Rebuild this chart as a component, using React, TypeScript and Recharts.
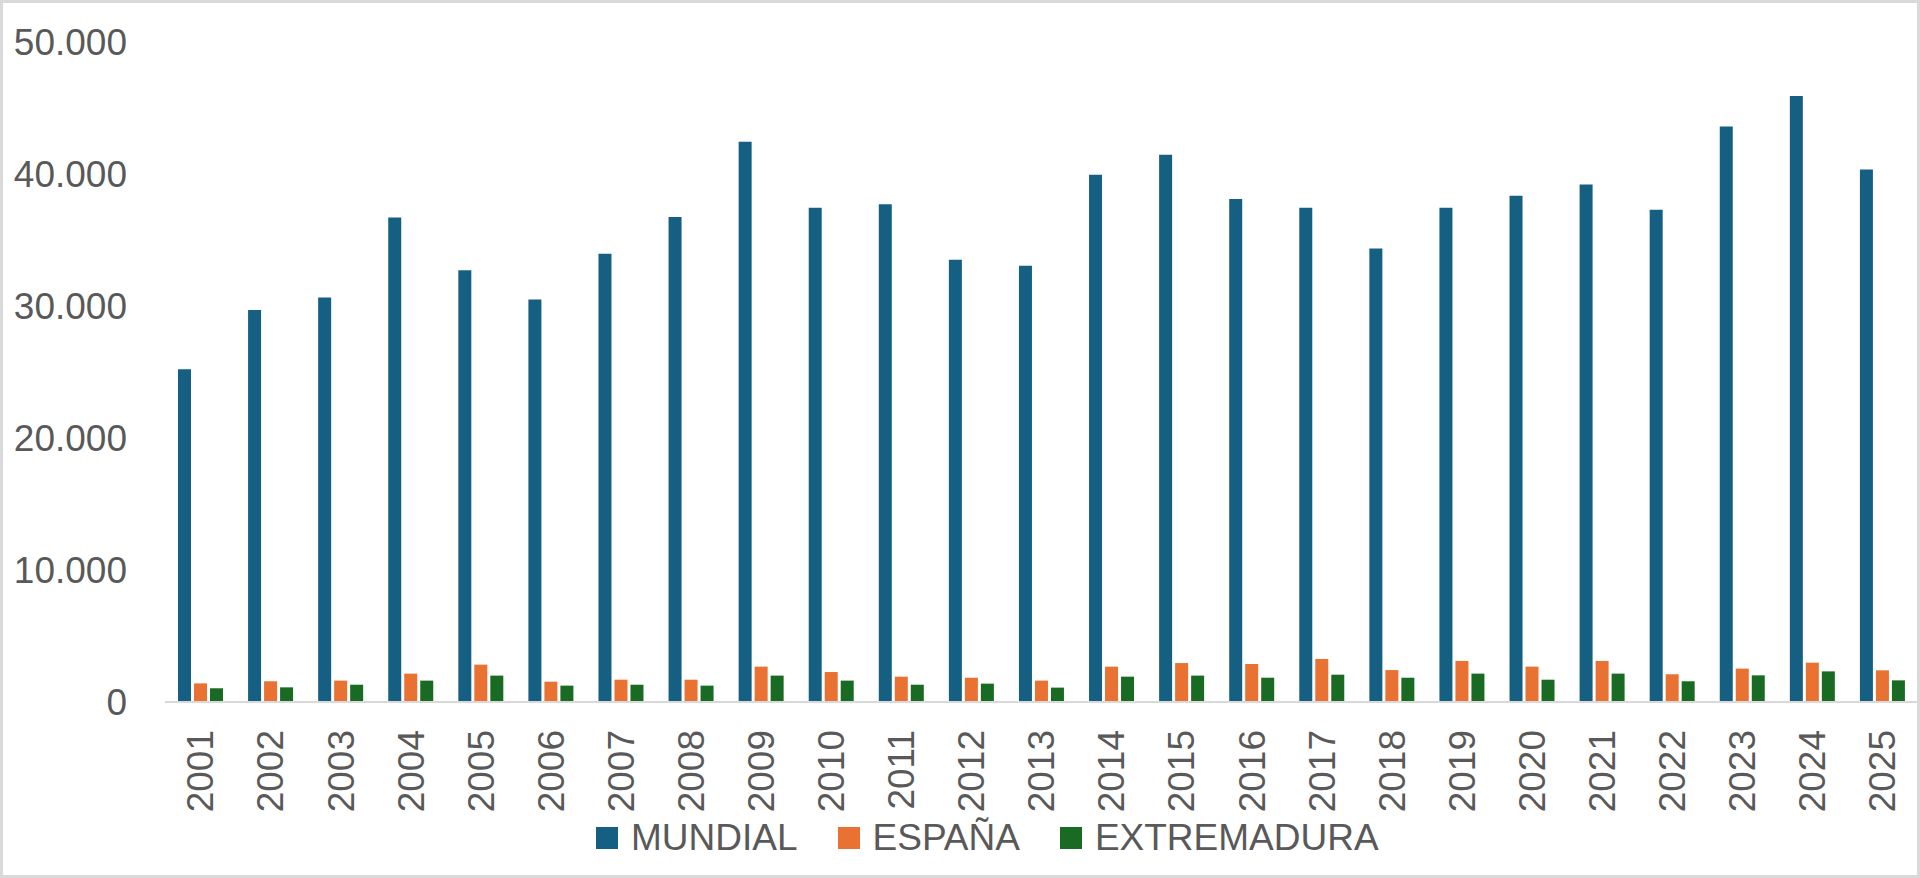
import React from 'react';
import { BarChart, Bar, XAxis, YAxis, Legend } from 'recharts';

const years = ['2001','2002','2003','2004','2005','2006','2007','2008','2009','2010','2011','2012','2013','2014','2015','2016','2017','2018','2019','2020','2021','2022','2023','2024','2025'];
const mundial = [25200, 29700, 30650, 36700, 32700, 30500, 33950, 36750, 42450, 37450, 37700, 33500, 33050, 39950, 41450, 38100, 37450, 34350, 37450, 38350, 39200, 37300, 43600, 45900, 40350];
const espana = [1410, 1570, 1620, 2150, 2830, 1540, 1690, 1690, 2680, 2270, 1920, 1840, 1620, 2680, 2950, 2880, 3260, 2420, 3110, 2680, 3110, 2100, 2530, 2980, 2400];
const extremadura = [1040, 1110, 1310, 1620, 2000, 1240, 1310, 1240, 2000, 1620, 1310, 1390, 1090, 1920, 2000, 1840, 2070, 1840, 2150, 1690, 2150, 1570, 2020, 2320, 1640];
const yTicks = [0, 10000, 20000, 30000, 40000, 50000];

const seriesKeys = ['mundial', 'espana', 'extremadura'];
const seriesNames: Record<string, string> = { mundial: 'MUNDIAL', espana: 'ESPAÑA', extremadura: 'EXTREMADURA' };
const colors: Record<string, string> = { mundial: '#156082', espana: '#E97132', extremadura: '#196B24' };

const data = years.map((y, i) => ({
  year: y,
  mundial: mundial[i],
  espana: espana[i],
  extremadura: extremadura[i],
}));

const FONT = '"Liberation Sans", Arial, sans-serif';
const TEXT = '#595959';

const fmt = (v: number) => String(v).replace(/\B(?=(\d{3})+(?!\d))/g, '.');

const YearTick = (props: any) => {
  const { x, y, payload } = props;
  return (
    <text
      x={x}
      y={y}
      transform={`rotate(-90, ${x}, ${y})`}
      textAnchor="end"
      dy="0.36em"
      fill={TEXT}
      fontSize={37}
      fontFamily={FONT}
    >
      {payload.value}
    </text>
  );
};

const LegendContent = (props: any) => {
  const items = [...(props.payload || [])].sort(
    (a: any, b: any) => seriesKeys.indexOf(a.dataKey) - seriesKeys.indexOf(b.dataKey)
  );
  return (
    <div
      style={{
        height: 44,
        display: 'flex',
        alignItems: 'center',
        paddingLeft: 596,
        fontFamily: FONT,
        fontSize: 37,
        color: TEXT,
        lineHeight: '44px',
      }}
    >
      {items.map((p: any, i: number) => (
        <div key={i} style={{ display: 'flex', alignItems: 'center', marginRight: 40 }}>
          <span style={{ display: 'inline-block', width: 22, height: 22, background: p.color, marginRight: 13 }} />
          <span>{p.value}</span>
        </div>
      ))}
    </div>
  );
};

export default function App() {
  return (
    <div style={{ position: 'absolute', left: 0, top: 0, width: 1920, height: 878, background: '#ffffff' }}>
      <BarChart
        width={1920}
        height={878}
        data={data}
        margin={{ top: 42, right: 3, bottom: 18, left: 0 }}
        barCategoryGap={13}
        barGap={3}
        style={{ fontFamily: FONT }}
      >
        <XAxis
          dataKey="year"
          interval={0}
          tickLine={false}
          tickSize={6}
          tickMargin={22}
          height={114}
          axisLine={{ stroke: '#d9d9d9', strokeWidth: 2 }}
          tick={<YearTick />}
        />
        <YAxis
          width={165}
          domain={[0, 50000]}
          ticks={yTicks}
          tickFormatter={fmt}
          axisLine={false}
          tickLine={false}
          tickSize={0}
          tickMargin={38}
          tick={{ fill: TEXT, fontSize: 37, fontFamily: FONT }}
        />
        <Legend verticalAlign="bottom" content={<LegendContent />} wrapperStyle={{ left: 0, width: 1920, bottom: 18 }} />
        {seriesKeys.map((k) => (
          <Bar key={k} dataKey={k} name={seriesNames[k]} fill={colors[k]} isAnimationActive={false} />
        ))}
      </BarChart>
      <div
        style={{
          position: 'absolute',
          left: 0,
          top: 0,
          width: 1920,
          height: 878,
          boxSizing: 'border-box',
          border: '3px solid #d9d9d9',
          pointerEvents: 'none',
        }}
      />
    </div>
  );
}
